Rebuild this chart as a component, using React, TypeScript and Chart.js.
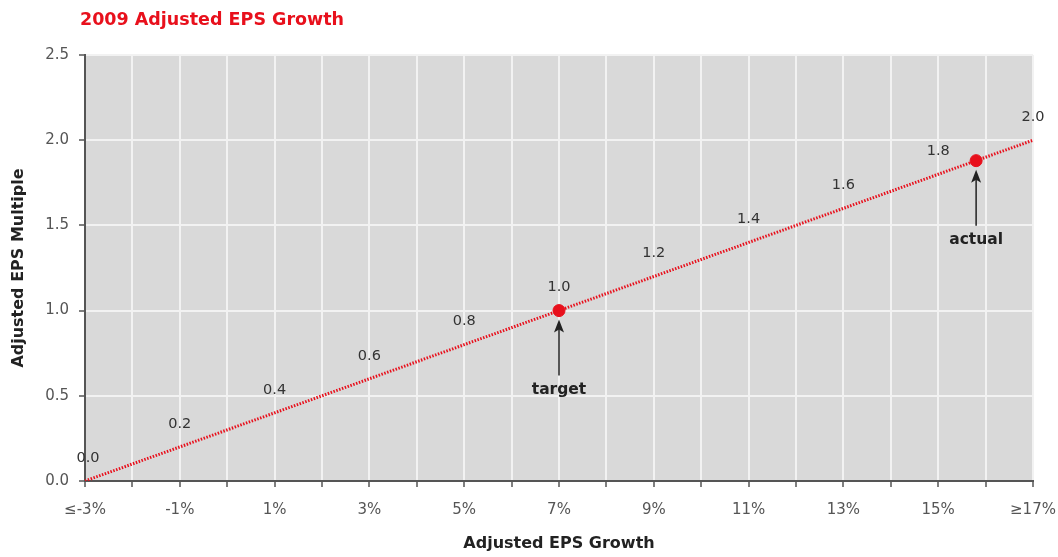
import React, { useEffect, useRef } from "react";
import { Chart, registerables } from "chart.js";

Chart.register(...registerables);

const chartTitle = "2009 Adjusted EPS Growth";
const xAxisTitle = "Adjusted EPS Growth";
const yAxisTitle = "Adjusted EPS Multiple";
const lineX = [-3, -1, 1, 3, 5, 7, 9, 11, 13, 15, 17];
const lineY = [0.0, 0.2, 0.4, 0.6, 0.8, 1.0, 1.2, 1.4, 1.6, 1.8, 2.0];
const markerX = [7, 15.8];
const markerY = [1.0, 1.88];
const markerNames = ["target", "actual"];
const xMin = -3;
const xMax = 17;
const yMin = 0;
const yMax = 2.5;

const FONT = "'DejaVu Sans', sans-serif";
const RED = "#e8101c";

const decorPlugin = {
  id: "decor",
  beforeDraw(chart: any) {
    const { ctx, chartArea } = chart;
    ctx.save();
    ctx.fillStyle = "#d9d9d9";
    ctx.fillRect(chartArea.left, chartArea.top, chartArea.right - chartArea.left, chartArea.bottom - chartArea.top);
    ctx.restore();
  },
  afterDraw(chart: any) {
    const { ctx } = chart;
    const xs = chart.scales.x;
    const ys = chart.scales.y;
    ctx.save();
    // title
    ctx.fillStyle = RED;
    ctx.font = `bold 17.5px ${FONT}`;
    ctx.textAlign = "left";
    ctx.textBaseline = "middle";
    ctx.fillText(chartTitle, 80, 20);
    // value labels along the line
    ctx.fillStyle = "#333";
    ctx.font = `14.5px ${FONT}`;
    ctx.textAlign = "center";
    lineX.forEach((xv, i) => {
      let px = xs.getPixelForValue(xv);
      if (i === 0) px += 3;
      const py = ys.getPixelForValue(lineY[i]);
      ctx.fillText(lineY[i].toFixed(1), px, py - 23);
    });
    // arrows + labels
    markerX.forEach((xv, i) => {
      const px = xs.getPixelForValue(xv);
      const py = ys.getPixelForValue(markerY[i]);
      ctx.strokeStyle = "#222";
      ctx.fillStyle = "#222";
      ctx.lineWidth = 1.5;
      ctx.beginPath();
      ctx.moveTo(px, py + 18);
      ctx.lineTo(px, py + 65);
      ctx.stroke();
      ctx.beginPath();
      ctx.moveTo(px, py + 9);
      ctx.lineTo(px - 5, py + 22);
      ctx.lineTo(px, py + 19);
      ctx.lineTo(px + 5, py + 22);
      ctx.closePath();
      ctx.fill();
      ctx.font = `bold 15.5px ${FONT}`;
      ctx.textAlign = "center";
      ctx.fillText(markerNames[i], px, py + 79);
    });
    ctx.restore();
  },
};

export default function App() {
  const ref = useRef<HTMLCanvasElement>(null);
  useEffect(() => {
    document.body.style.margin = "0";
    const canvas = ref.current!;
    const chart = new Chart(canvas, {
      type: "scatter",
      data: {
        datasets: [
          {
            type: "line",
            data: lineX.map((x, i) => ({ x, y: lineY[i] })),
            borderColor: RED,
            borderWidth: 3,
            borderDash: [1.5, 1.5],
            pointRadius: 0,
            fill: false,
          } as any,
          {
            data: markerX.map((x, i) => ({ x, y: markerY[i] })),
            backgroundColor: RED,
            borderColor: RED,
            pointRadius: 6,
          },
        ],
      },
      options: {
        animation: false,
        responsive: false,
        devicePixelRatio: 1,
        layout: { padding: { top: 55, right: 25, left: 0, bottom: 0 } },
        plugins: { legend: { display: false }, tooltip: { enabled: false }, title: { display: false } },
        scales: {
          x: {
            type: "linear",
            min: xMin,
            max: xMax,
            afterFit: (s: any) => { s.height = 76; s.paddingLeft = 0; s.paddingRight = 0; },
            border: { display: true, color: "#555", width: 2 },
            grid: { color: "#f2f2f2", lineWidth: 2, tickColor: "#555", tickLength: 6, tickWidth: 1.5 },
            ticks: {
              stepSize: 1,
              autoSkip: false,
              maxRotation: 0,
              padding: 14,
              color: "#555",
              font: { family: FONT, size: 15 },
              callback: (v: any) => {
                const n = Number(v);
                if (n === xMin) return "≤" + n + "%";
                if (n === xMax) return "≥" + n + "%";
                return Math.abs(n % 2) === 1 ? n + "%" : "";
              },
            },
            title: { display: true, text: xAxisTitle, color: "#222", font: { family: FONT, size: 16, weight: "bold" }, padding: { top: 10 } },
          },
          y: {
            min: yMin,
            max: yMax,
            afterFit: (s: any) => { s.width = 85; s.paddingTop = 0; s.paddingBottom = 0; },
            border: { display: true, color: "#555", width: 2 },
            grid: { color: "#f2f2f2", lineWidth: 2, tickColor: "#555", tickLength: 6, tickWidth: 1.5 },
            ticks: {
              stepSize: 0.5,
              padding: 10,
              color: "#555",
              font: { family: FONT, size: 15 },
              callback: (v: any) => Number(v).toFixed(1),
            },
            title: { display: true, text: yAxisTitle, color: "#222", font: { family: FONT, size: 16, weight: "bold" }, padding: { bottom: 0, top: 9 } },
          },
        },
      },
      plugins: [decorPlugin],
    } as any);
    return () => chart.destroy();
  }, []);
  return <canvas ref={ref} width={1058} height={557} style={{ display: "block" }} />;
}
